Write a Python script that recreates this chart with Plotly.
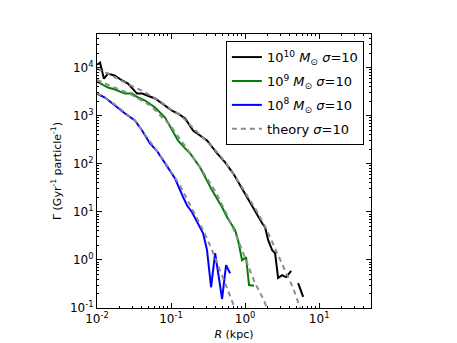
import plotly.graph_objects as go

# rates (R in kpc, Gamma in Gyr^-1 particle^-1)
r_1e10 = [0.0100, 0.0110, 0.0124, 0.0141, 0.0175, 0.0218, 0.0262, 0.0306, 0.0347, 0.0406,
          0.0489, 0.0608, 0.0756, 0.103, 0.124, 0.155, 0.198, 0.306, 0.419, 0.537,
          0.689, 0.855, 1.10, 1.45, 1.70, 1.86, 2.05, 2.32, 2.54, 2.79,
          3.16, 3.58, 4.19, None, 5.20, 6.08]
g_1e10 = [11500, 12700, 5900, 7500, 6800, 5400, 4660, 3670, 2890, 2890,
          2630, 2280, 1790, 1280, 1110, 875, 493, 306, 164, 107,
          63.2, 35.6, 17.4, 8.5, 5.8, 4.79, 2.57, 1.60, 1.38, 0.42,
          0.48, 0.44, 0.59, None, 0.33, 0.17]

r_1e9 = [0.0100, 0.0120, 0.0141, 0.0175, 0.0239, 0.0297, 0.0358, 0.0446, 0.0608, 0.0830,
         0.0969, 0.124, 0.155, 0.181, 0.246, 0.306, 0.358, 0.489, 0.571, 0.733,
         0.804, 0.910, 1.03, 1.13, 1.32]
g_1e9 = [5100, 4450, 3850, 3500, 2890, 2890, 2390, 2070, 1480, 918,
         597, 306, 209, 164, 84.2, 45.3, 28.0, 12.5, 7.72, 4.15,
         2.57, 0.99, 1.14, 0.30, 0.29]

r_1e8 = [0.0100, 0.0128, 0.0175, 0.0239, 0.0326, 0.0406, 0.0520, 0.0652, 0.0780, 0.0969,
         0.113, 0.142, 0.164, 0.192, 0.227, 0.271, 0.306, 0.347, 0.394, 0.489,
         0.553, 0.627]
g_1e8 = [2890, 2390, 1630, 1110, 795, 493, 265, 181, 118, 72.9,
         49.8, 22.1, 13.7, 9.8, 5.8, 3.59, 1.60, 0.27, 1.38, 0.154,
         0.78, 0.53]

# theory curves, sigma = 10
rt_1e10 = [0.0100, 0.0150, 0.0225, 0.030, 0.0406, 0.0710, 0.100, 0.132, 0.180, 0.246,
           0.350, 0.459, 0.600, 0.855, 1.10, 1.36, 1.86, 2.54, 3.47, 4.46,
           5.53, 6.47]
gt_1e10 = [9500, 7200, 5100, 4100, 3300, 2000, 1350, 1050, 640, 400,
           235, 150, 85, 38, 20, 12, 5.0, 1.8, 0.6, 0.26,
           0.105, 0.05]
rt_1e9 = [0.0100, 0.0150, 0.0279, 0.0520, 0.0969, 0.155, 0.246, 0.394, 0.537, 0.733,
          1.00, 1.36, 1.79, 2.05]
gt_1e9 = [5600, 4200, 2850, 1650, 640, 225, 85, 27, 10.5, 3.7,
          1.14, 0.33, 0.147, 0.083]
rt_1e8 = [0.0100, 0.0175, 0.0326, 0.0520, 0.0830, 0.132, 0.192, 0.271, 0.358, 0.459,
          0.571, 0.689, 0.76]
gt_1e8 = [3000, 1700, 790, 290, 107, 35.6, 11.9, 4.15, 1.60, 0.61,
          0.27, 0.127, 0.083]

x_ticks = [0.01, 0.1, 1, 10]
x_labels = ['10<sup>-2</sup>', '10<sup>-1</sup>', '10<sup>0</sup>', '10<sup>1</sup>']
y_ticks = [0.1, 1, 10, 100, 1000, 10000]
y_labels = ['10<sup>-1</sup>', '10<sup>0</sup>', '10<sup>1</sup>', '10<sup>2</sup>',
            '10<sup>3</sup>', '10<sup>4</sup>']

fig = go.Figure()

runs = [(r_1e10, g_1e10, 'black', '10<sup>10</sup> <i>M</i><sub>⊙</sub> <i>σ</i>=10'),
        (r_1e9, g_1e9, '#008000', '10<sup>9</sup> <i>M</i><sub>⊙</sub> <i>σ</i>=10'),
        (r_1e8, g_1e8, '#0000ff', '10<sup>8</sup> <i>M</i><sub>⊙</sub> <i>σ</i>=10')]
for k, (r, g, c, name) in enumerate(runs):
    fig.add_scatter(x=r, y=g, mode='lines', name=name, legendgroup=str(k),
                    line=dict(color=c, width=2))

# dashed theory lines, only the first goes in the legend
for i, (r, g) in enumerate([(rt_1e10, gt_1e10), (rt_1e9, gt_1e9), (rt_1e8, gt_1e8)]):
    fig.add_scatter(x=r, y=g, mode='lines', name='theory <i>σ</i>=10', showlegend=(i == 0),
                    legendgroup='theory',
                    line=dict(color='#8c8c8c', width=2, dash='5px,4px'))

axis_style = dict(type='log', showgrid=False, zeroline=False, showline=True, linecolor='black',
                  linewidth=1, mirror='ticks', ticks='inside', ticklen=5, tickcolor='black',
                  automargin=False,
                  tickfont=dict(family='DejaVu Sans', size=12, color='black'),
                  minor=dict(ticks='inside', ticklen=2, tickcolor='black', dtick='D1', showgrid=False))

fig.update_xaxes(axis_style, range=[-2, 1.7], tickvals=x_ticks, ticktext=x_labels,
                 title=dict(text='<i>R</i> (kpc)', font=dict(family='DejaVu Sans', size=11, color='black'),
                            standoff=4))
fig.update_yaxes(axis_style, range=[-1, 4.7], tickvals=y_ticks, ticktext=y_labels,
                 title=dict(text='Γ (Gyr<sup>-1</sup> particle<sup>-1</sup>)',
                            font=dict(family='DejaVu Sans', size=11, color='black'), standoff=6))

# page body adds an 8px offset, margins compensate
fig.update_layout(
    width=457, height=343,
    margin=dict(l=89, r=94, t=26, b=43),
    plot_bgcolor='white', paper_bgcolor='white',
    legend=dict(x=0.974, y=0.974, xanchor='right', yanchor='top', bgcolor='white',
                bordercolor='black', borderwidth=1, tracegroupgap=4, itemwidth=30,
                traceorder='grouped',
                font=dict(family='DejaVu Sans', size=13, color='black')),
)

fig.write_html("out.html")
